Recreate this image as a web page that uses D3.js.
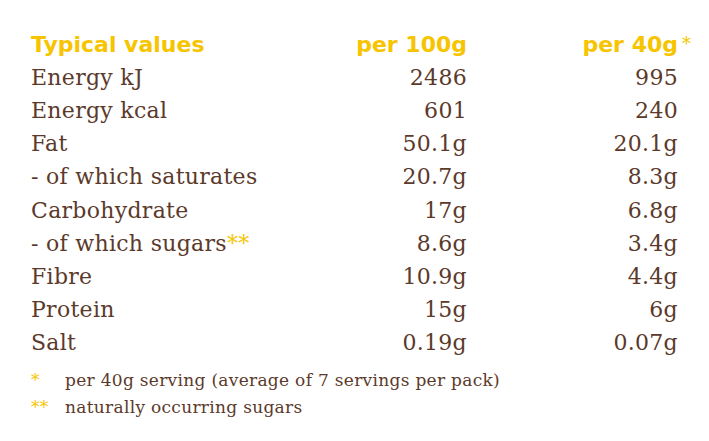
<!DOCTYPE html>
<meta charset="utf-8">
<style>
body { margin: 0; background: #fff; }
.body-text { font-family: "DejaVu Serif", serif; }
.hdr { font-family: "DejaVu Sans", sans-serif; font-weight: 900; }
</style>
<body>
<script src="https://d3js.org/d3.v7.min.js"></script>
<script>

var width = 709,
    height = 441;

var headers = ["Typical values", "per 100g", "per 40g"];
var nutrients = ["Energy kJ", "Energy kcal", "Fat", "- of which saturates", "Carbohydrate",
                 "- of which sugars", "Fibre", "Protein", "Salt"];
var per100g = ["2486", "601", "50.1g", "20.7g", "17g", "8.6g", "10.9g", "15g", "0.19g"];
var per40g = ["995", "240", "20.1g", "8.3g", "6.8g", "3.4g", "4.4g", "6g", "0.07g"];
var footnotes = [["*", "per 40g serving (average of 7 servings per pack)"],
                 ["**", "naturally occurring sugars"]];

var brown = "#5b3a2b",
    yellow = "#f6c500";

var svg = d3.select("body").append("svg")
    .attr("width", width)
    .attr("height", height);

var y = d3.scalePoint()
    .domain(d3.range(nutrients.length))
    .range([77, 342]);

// header
var hdr = svg.append("g")
    .attr("fill", yellow)
    .style("font-size", "22px");
hdr.append("text").attr("class", "hdr").attr("x", 31).attr("y", 52).text(headers[0]);
hdr.append("text").attr("class", "hdr").attr("x", 467).attr("y", 52).attr("text-anchor", "end").text(headers[1]);
hdr.append("text").attr("class", "hdr").attr("x", 678).attr("y", 52).attr("text-anchor", "end").text(headers[2]);
svg.append("text").attr("class", "body-text").attr("x", 682).attr("y", 50).attr("fill", yellow)
    .style("font-size", "18px").text("*");

var rows = svg.selectAll(".row")
    .data(nutrients)
  .enter().append("g")
    .attr("class", "row body-text")
    .attr("transform", function(d, i) { return "translate(0," + (y(i) + 8) + ")"; })
    .attr("fill", brown)
    .style("font-size", "22px")
    .style("letter-spacing", "0.3px");

rows.append("text")
    .attr("x", 31)
    .text(function(d) { return d; })
  .filter(function(d) { return d == "- of which sugars"; })
  .append("tspan")
    .attr("fill", yellow)
    .text("**");

rows.append("text")
    .attr("x", 467)
    .attr("text-anchor", "end")
    .text(function(d, i) { return per100g[i]; });

rows.append("text")
    .attr("x", 678)
    .attr("text-anchor", "end")
    .text(function(d, i) { return per40g[i]; });

var notes = svg.selectAll(".note")
    .data(footnotes)
  .enter().append("g")
    .attr("class", "body-text")
    .attr("transform", function(d, i) { return "translate(0," + (386 + i * 27) + ")"; })
    .style("font-size", "17px")
    .style("letter-spacing", "0.3px");
notes.append("text").attr("x", 31).attr("fill", yellow).text(function(d) { return d[0]; });
notes.append("text").attr("x", 65).attr("fill", brown).text(function(d) { return d[1]; });

</script>
